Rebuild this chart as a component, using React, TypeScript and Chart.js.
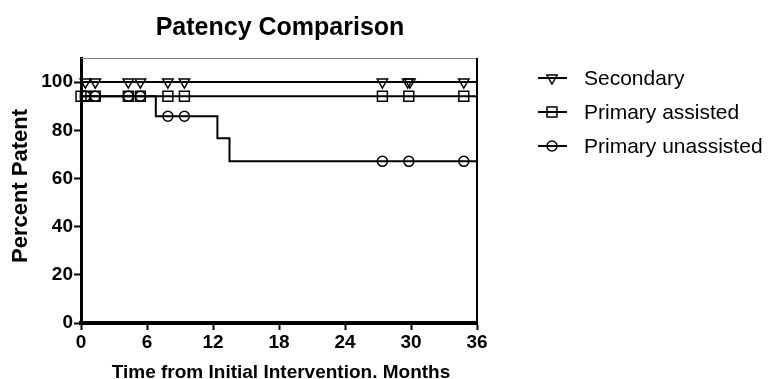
import React, { useEffect, useRef } from "react";
import { Chart, registerables } from "chart.js";
import { drawPoint } from "chart.js/helpers";

Chart.register(...registerables);

const titleText = "Patency Comparison";
const xTitle = "Time from Initial Intervention. Months";
const yTitle = "Percent Patent";

const xMin = 0;
const xMax = 36;
const xStep = 6;
const yMax = 110;
const yTicks = [0, 20, 40, 60, 80, 100];

const seriesNames = ["Secondary", "Primary assisted", "Primary unassisted"];

// step curves (time, percent)
const secondaryStepT = [0, 36];
const secondaryStepV = [100, 100];
const assistedStepT = [0, 36];
const assistedStepV = [94.1, 94.1];
const unassistedStepT = [0, 6.8, 12.4, 13.5, 36];
const unassistedStepV = [94.1, 85.8, 76.7, 67.1, 67.1];

// censor marks
const secondaryCensorT = [0.4, 1.3, 4.3, 5.4, 7.9, 9.4, 27.4, 29.7, 29.9, 34.8];
const secondaryCensorV = [100, 100, 100, 100, 100, 100, 100, 100, 100, 100];
const assistedCensorT = [0, 0.4, 1.3, 4.3, 5.4, 7.9, 9.4, 27.4, 29.8, 34.8];
const assistedCensorV = [94.1, 94.1, 94.1, 94.1, 94.1, 94.1, 94.1, 94.1, 94.1, 94.1];
const unassistedCensorT = [0.4, 1.3, 4.3, 5.4, 7.9, 9.4, 27.4, 29.8, 34.8];
const unassistedCensorV = [94.1, 94.1, 94.1, 94.1, 85.8, 85.8, 67.1, 67.1, 67.1];

const FONT = "'Liberation Sans', Arial, Helvetica, sans-serif";

const markerStyles = [
  { pointStyle: "triangle", radius: 6, rotation: 180 },
  { pointStyle: "rect", radius: 7, rotation: 0 },
  { pointStyle: "circle", radius: 5, rotation: 0 },
];

const toPts = (t: number[], v: number[]) => t.map((x, i) => ({ x, y: v[i] }));

const decorPlugin = {
  id: "decor",
  afterDatasetsDraw(chart: any) {
    const { ctx, chartArea } = chart;
    const { left, right, top, bottom } = chartArea;
    ctx.save();
    // top frame line
    ctx.strokeStyle = "#808080";
    ctx.lineWidth = 1;
    ctx.beginPath();
    ctx.moveTo(left, top + 0.5);
    ctx.lineTo(right, top + 0.5);
    ctx.stroke();
    // right frame line
    ctx.strokeStyle = "#000";
    ctx.lineWidth = 2;
    ctx.beginPath();
    ctx.moveTo(right, top);
    ctx.lineTo(right, bottom);
    ctx.stroke();

    ctx.fillStyle = "#000";
    // title
    ctx.font = `bold 25px ${FONT}`;
    ctx.textAlign = "center";
    ctx.textBaseline = "alphabetic";
    ctx.fillText(titleText, (left + right) / 2 + 1, 35);
    // x title
    ctx.font = `bold 19px ${FONT}`;
    ctx.fillText(xTitle, (left + right) / 2 + 2, 378);
    // y title
    ctx.save();
    ctx.translate(27, 186);
    ctx.rotate(-Math.PI / 2);
    ctx.font = `bold 22px ${FONT}`;
    ctx.textAlign = "center";
    ctx.textBaseline = "alphabetic";
    ctx.fillText(yTitle, 0, 0);
    ctx.restore();

    // legend
    const rows = [78, 112, 146];
    seriesNames.forEach((name, i) => {
      const y = rows[i];
      ctx.strokeStyle = "#000";
      ctx.lineWidth = 2;
      ctx.beginPath();
      ctx.moveTo(538, y);
      ctx.lineTo(567, y);
      ctx.stroke();
      const m = markerStyles[i];
      ctx.lineWidth = 1.5;
      ctx.strokeStyle = "#000";
      ctx.fillStyle = "rgba(0,0,0,0)";
      drawPoint(ctx, { pointStyle: m.pointStyle, rotation: m.rotation, radius: m.radius, borderWidth: 1.5 } as any, 552, y);
      ctx.fillStyle = "#000";
      ctx.font = `21px ${FONT}`;
      ctx.textAlign = "left";
      ctx.textBaseline = "middle";
      ctx.fillText(name, 584, y + 1);
    });
    ctx.restore();
  },
};

export default function App() {
  const ref = useRef<HTMLCanvasElement | null>(null);

  useEffect(() => {
    document.body.style.margin = "0";
    const canvas = ref.current;
    if (!canvas) return;

    const steps = [
      toPts(secondaryStepT, secondaryStepV),
      toPts(assistedStepT, assistedStepV),
      toPts(unassistedStepT, unassistedStepV),
    ];
    const censors = [
      toPts(secondaryCensorT, secondaryCensorV),
      toPts(assistedCensorT, assistedCensorV),
      toPts(unassistedCensorT, unassistedCensorV),
    ];

    const datasets: any[] = [];
    seriesNames.forEach((name, i) => {
      datasets.push({
        label: name,
        data: steps[i],
        stepped: true,
        borderColor: "#000",
        borderWidth: 2,
        pointRadius: 0,
        fill: false,
        clip: false,
      });
      datasets.push({
        label: name + " censored",
        data: censors[i],
        showLine: false,
        pointStyle: markerStyles[i].pointStyle,
        pointRotation: markerStyles[i].rotation,
        pointRadius: markerStyles[i].radius,
        pointBorderColor: "#000",
        pointBackgroundColor: "rgba(0,0,0,0)",
        pointBorderWidth: 1.5,
        clip: false,
      });
    });

    const chart = new Chart(canvas, {
      type: "line",
      data: { datasets },
      options: {
        animation: false,
        responsive: true,
        maintainAspectRatio: false,
        events: [],
        layout: { padding: { top: 58, right: 292, left: 0, bottom: 0 } },
        plugins: {
          legend: { display: false },
          title: { display: false },
          tooltip: { enabled: false },
        },
        scales: {
          x: {
            type: "linear",
            min: xMin,
            max: xMax,
            afterFit: (s: any) => {
              s.height = 56;
            },
            ticks: {
              stepSize: xStep,
              color: "#000",
              font: { family: FONT, size: 19, weight: "bold" },
              padding: 1,
              maxRotation: 0,
            },
            grid: {
              drawOnChartArea: false,
              drawTicks: true,
              tickLength: 7,
              tickWidth: 2,
              tickColor: "#000",
            },
            border: { display: true, color: "#000", width: 4 },
          },
          y: {
            type: "linear",
            min: 0,
            max: yMax,
            afterFit: (s: any) => {
              s.width = 81;
            },
            afterBuildTicks: (s: any) => {
              s.ticks = yTicks.map((v) => ({ value: v }));
            },
            ticks: {
              color: "#000",
              font: { family: FONT, size: 19, weight: "bold" },
              padding: 1,
            },
            grid: {
              drawOnChartArea: false,
              drawTicks: true,
              tickLength: 7,
              tickWidth: 2,
              tickColor: "#000",
            },
            border: { display: true, color: "#000", width: 3 },
          },
        },
      },
      plugins: [decorPlugin],
    });

    return () => chart.destroy();
  }, []);

  return (
    <div style={{ position: "absolute", left: 0, top: 0, width: 769, height: 379 }}>
      <canvas ref={ref} />
    </div>
  );
}
